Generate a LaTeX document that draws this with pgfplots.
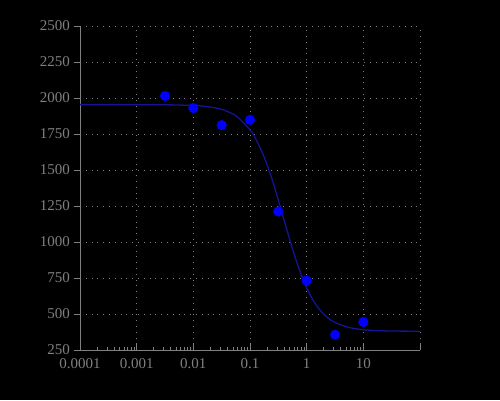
\documentclass[border=0pt]{standalone}
\usepackage{fontspec}
\setmainfont{Liberation Serif}
\usepackage{pgfplots}
\pgfplotsset{compat=1.18}
\definecolor{axgray}{RGB}{128,128,128}
\definecolor{fitblue}{RGB}{20,20,150}
\definecolor{ptblue}{RGB}{0,0,255}
\begin{document}
\begin{tikzpicture}
\fill[black] (-80pt,-50pt) rectangle (420pt,350pt);
\begin{axis}[
  at={(0,0)}, anchor=south west,
  scale only axis, width=340pt, height=324pt,
  xmode=log, xmin=1e-4, xmax=100,
  ymin=250, ymax=2500,
  axis x line*=bottom, axis y line*=left,
  axis line style={axgray, line width=0.8pt, -},
  xtick={1e-4,1e-3,1e-2,1e-1,1,10},
  xticklabels={0.0001,0.001,0.01,0.1,1,10},
  extra x ticks={100}, extra x tick labels={},
  extra x tick style={grid=major},
  ytick={250,500,...,2500},
  grid=major,
  major grid style={axgray, line width=0.8pt, dash pattern=on 0.8pt off 5pt},
  tick style={axgray, line width=0.8pt},
  major tick length=6pt,
  xtick align=inside,
  ytick align=outside,
  ticklabel style={text=axgray, font=\fontsize{15}{18}\selectfont, inner sep=1pt},
  yticklabel style={xshift=-3pt},
  xticklabel style={yshift=-7pt},
  /pgf/number format/assume math mode=true,
  /pgf/number format/1000 sep={},
  clip=false,
]
\addplot[fitblue, line width=1.3pt, smooth] coordinates {
  (0.0001,1954.0) (0.001,1953.8) (0.00316,1953.0) (0.01,1948.2)
  (0.01778,1940.2) (0.03162,1921.0) (0.05623,1876.8) (0.1,1779.5)
  (0.1334,1698.7) (0.1778,1590.0) (0.2371,1452.6) (0.3162,1291.9)
  (0.4217,1120.0) (0.5623,952.4) (0.7499,803.1) (1,681.2)
  (1.334,588.2) (1.778,520.7) (2.371,473.5) (3.162,441.5)
  (5.623,406.1) (10,390.9) (17.78,384.6) (31.62,381.9) (100,380.3)
};
\addplot[only marks, mark=*, mark size=4.8pt, mark options={fill=ptblue, draw=ptblue}] coordinates {
  (0.003162,2014) (0.01,1930) (0.03162,1812) (0.1,1848)
  (0.3162,1212) (1,732) (3.162,356) (10,444)
};
\end{axis}
\end{tikzpicture}
\end{document}
